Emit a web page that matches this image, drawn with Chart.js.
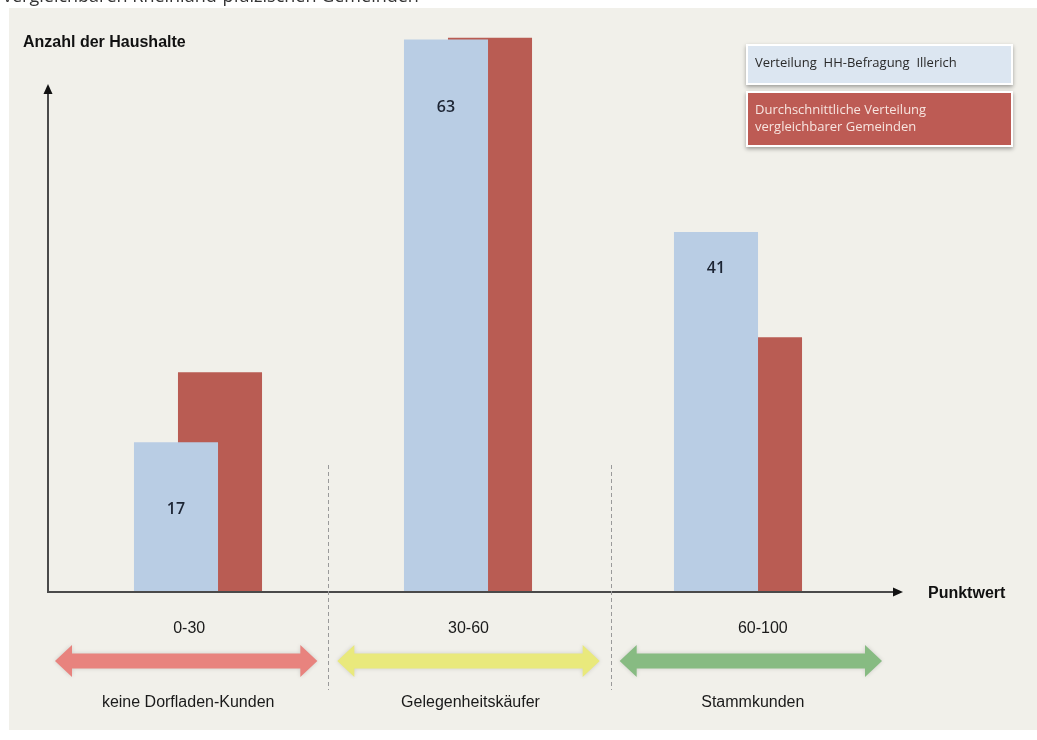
<!DOCTYPE html>
<html>
<head>
<meta charset="utf-8">
<script src="https://cdn.jsdelivr.net/npm/chart.js@4.4.1/dist/chart.umd.min.js"></script>
<style>
  body { margin: 0; background: #ffffff; }
  #wrap { width: 1037px; height: 740px; }
</style>
</head>
<body>
<div id="wrap"><canvas id="haushalteChart" width="1037" height="740"></canvas></div>
<script>
// Data
const categories = ['0-30', '30-60', '60-100'];
const customerTypes = ['keine Dorfladen-Kunden', 'Gelegenheitskäufer', 'Stammkunden'];
const illerichValues = [17, 63, 41];
const averageValues = [25, 63.2, 29];
const seriesNames = ['Verteilung  HH-Befragung  Illerich', 'Durchschnittliche Verteilung|vergleichbarer Gemeinden'];

const blue = '#b9cde4';
const red = '#b95c53';
const bandColors = ['#e8837e', '#e9e97c', '#87bb82'];
const labelFont = '"Liberation Sans Narrow", "Liberation Sans", sans-serif';

// Draws the panel, axes with arrows, ranges, legend boxes and value labels
const decorPlugin = {
    id: 'decor',
    beforeDraw(chart) {
        const ctx = chart.ctx;
        ctx.save();
        ctx.fillStyle = '#f1f0ea';
        ctx.fillRect(9, 8, 1037 - 9, 730 - 8);
        // cut off caption line at the very top
        ctx.fillStyle = '#333';
        ctx.font = '18px "Open Sans", sans-serif';
        ctx.textBaseline = 'alphabetic';
        ctx.fillText('vergleichbaren Rheinland-pfälzischen Gemeinden', 3, 2);
        ctx.restore();
    },
    afterDatasetsDraw(chart) {
        const ctx = chart.ctx;
        const yScale = chart.scales.y;
        const axisX = 48;
        const axisY = yScale.getPixelForValue(0) + 1;
        const axisEnd = 895;
        ctx.save();

        // axes
        ctx.strokeStyle = '#4a4a4a';
        ctx.fillStyle = '#111';
        ctx.lineWidth = 2;
        ctx.beginPath();
        ctx.moveTo(axisX, axisY);
        ctx.lineTo(axisX, 92);
        ctx.moveTo(axisX - 1, axisY);
        ctx.lineTo(axisEnd, axisY);
        ctx.stroke();
        ctx.beginPath();
        ctx.moveTo(axisX, 84);
        ctx.lineTo(axisX - 4.5, 94);
        ctx.lineTo(axisX + 4.5, 94);
        ctx.closePath();
        ctx.fill();
        ctx.beginPath();
        ctx.moveTo(axisEnd + 8, axisY);
        ctx.lineTo(axisEnd - 2, axisY - 4.5);
        ctx.lineTo(axisEnd - 2, axisY + 4.5);
        ctx.closePath();
        ctx.fill();

        // axis titles
        ctx.fillStyle = '#111';
        ctx.textBaseline = 'middle';
        ctx.textAlign = 'left';
        ctx.font = '600 16px ' + labelFont;
        ctx.fillText('Anzahl der Haushalte', 23, 43);
        ctx.fillText('Punktwert', 928, 594);

        // segments, dashed separators, range labels and arrows
        const segW = (axisEnd - axisX) / 3;
        ctx.strokeStyle = '#9a9a9a';
        ctx.lineWidth = 1;
        ctx.setLineDash([4, 3]);
        for (let i = 1; i < 3; i++) {
            const x = Math.round(axisX + segW * i) - 1.5;
            ctx.beginPath();
            ctx.moveTo(x, 465);
            ctx.lineTo(x, 690);
            ctx.stroke();
        }
        ctx.setLineDash([]);

        categories.forEach((cat, i) => {
            const left = axisX + segW * i;
            const x0 = left + 7;
            const x1 = left + segW - 13;
            const cy = 661;
            ctx.save();
            ctx.fillStyle = bandColors[i];
            ctx.shadowColor = 'rgba(0,0,0,0.15)';
            ctx.shadowBlur = 4;
            ctx.beginPath();
            ctx.moveTo(x0, cy);
            ctx.lineTo(x0 + 17, cy - 16);
            ctx.lineTo(x0 + 17, cy - 7.5);
            ctx.lineTo(x1 - 17, cy - 7.5);
            ctx.lineTo(x1 - 17, cy - 16);
            ctx.lineTo(x1, cy);
            ctx.lineTo(x1 - 17, cy + 16);
            ctx.lineTo(x1 - 17, cy + 7.5);
            ctx.lineTo(x0 + 17, cy + 7.5);
            ctx.lineTo(x0 + 17, cy + 16);
            ctx.closePath();
            ctx.fill();
            ctx.restore();

            const cx = (x0 + x1) / 2;
            ctx.fillStyle = '#1a1a1a';
            ctx.textAlign = 'center';
            ctx.font = '16px ' + labelFont;
            ctx.fillText(cat, cx + [3, 0, 12][i], 629);
            ctx.fillText(customerTypes[i], cx + 2, 703);
        });

        // value labels inside the blue bars
        const meta = chart.getDatasetMeta(0);
        const offsets = [67, 68, 36];
        ctx.font = '600 16px "Open Sans", sans-serif';
        ctx.fillStyle = '#1c2433';
        ctx.textAlign = 'center';
        meta.data.forEach((bar, i) => {
            ctx.fillText(String(illerichValues[i]), bar.x, bar.y + offsets[i]);
        });

        // legend boxes
        const boxes = [
            { y: 45, h: 39, fill: '#dce6f1', text: '#2a2a2a' },
            { y: 92, h: 54, fill: '#bd5b54', text: '#f7e4df' }
        ];
        boxes.forEach((b, i) => {
            ctx.save();
            ctx.shadowColor = 'rgba(0,0,0,0.35)';
            ctx.shadowBlur = 4;
            ctx.shadowOffsetY = 2;
            ctx.fillStyle = '#ffffff';
            ctx.fillRect(746, b.y - 1, 267, b.h + 2);
            ctx.restore();
            ctx.fillStyle = b.fill;
            ctx.fillRect(748, b.y + 1, 263, b.h - 2);
            ctx.fillStyle = b.text;
            ctx.textAlign = 'left';
            ctx.font = '13px "Open Sans", sans-serif';
            const lines = seriesNames[i].split('|');
            lines.forEach((line, k) => {
                ctx.fillText(line, 755, b.y + (lines.length === 1 ? 18 : 18 + k * 17));
            });
        });
        ctx.restore();
    }
};

new Chart(document.getElementById('haushalteChart'), {
    type: 'bar',
    data: {
        labels: categories,
        datasets: [{
            label: seriesNames[0],
            data: illerichValues,
            backgroundColor: blue,
            categoryPercentage: 0.326,
            barPercentage: 1.91
        }, {
            label: seriesNames[1].replace('|', ' '),
            data: averageValues,
            backgroundColor: red,
            categoryPercentage: 0.326,
            barPercentage: 1.91
        }]
    },
    options: {
        responsive: false,
        animation: false,
        layout: { padding: { left: 63, right: 164, top: 22, bottom: 149 } },
        plugins: {
            legend: { display: false },
            tooltip: { enabled: false }
        },
        scales: {
            x: { display: false },
            y: { display: false, min: 0, max: 65 }
        }
    },
    plugins: [decorPlugin]
});
</script>
</body>
</html>
